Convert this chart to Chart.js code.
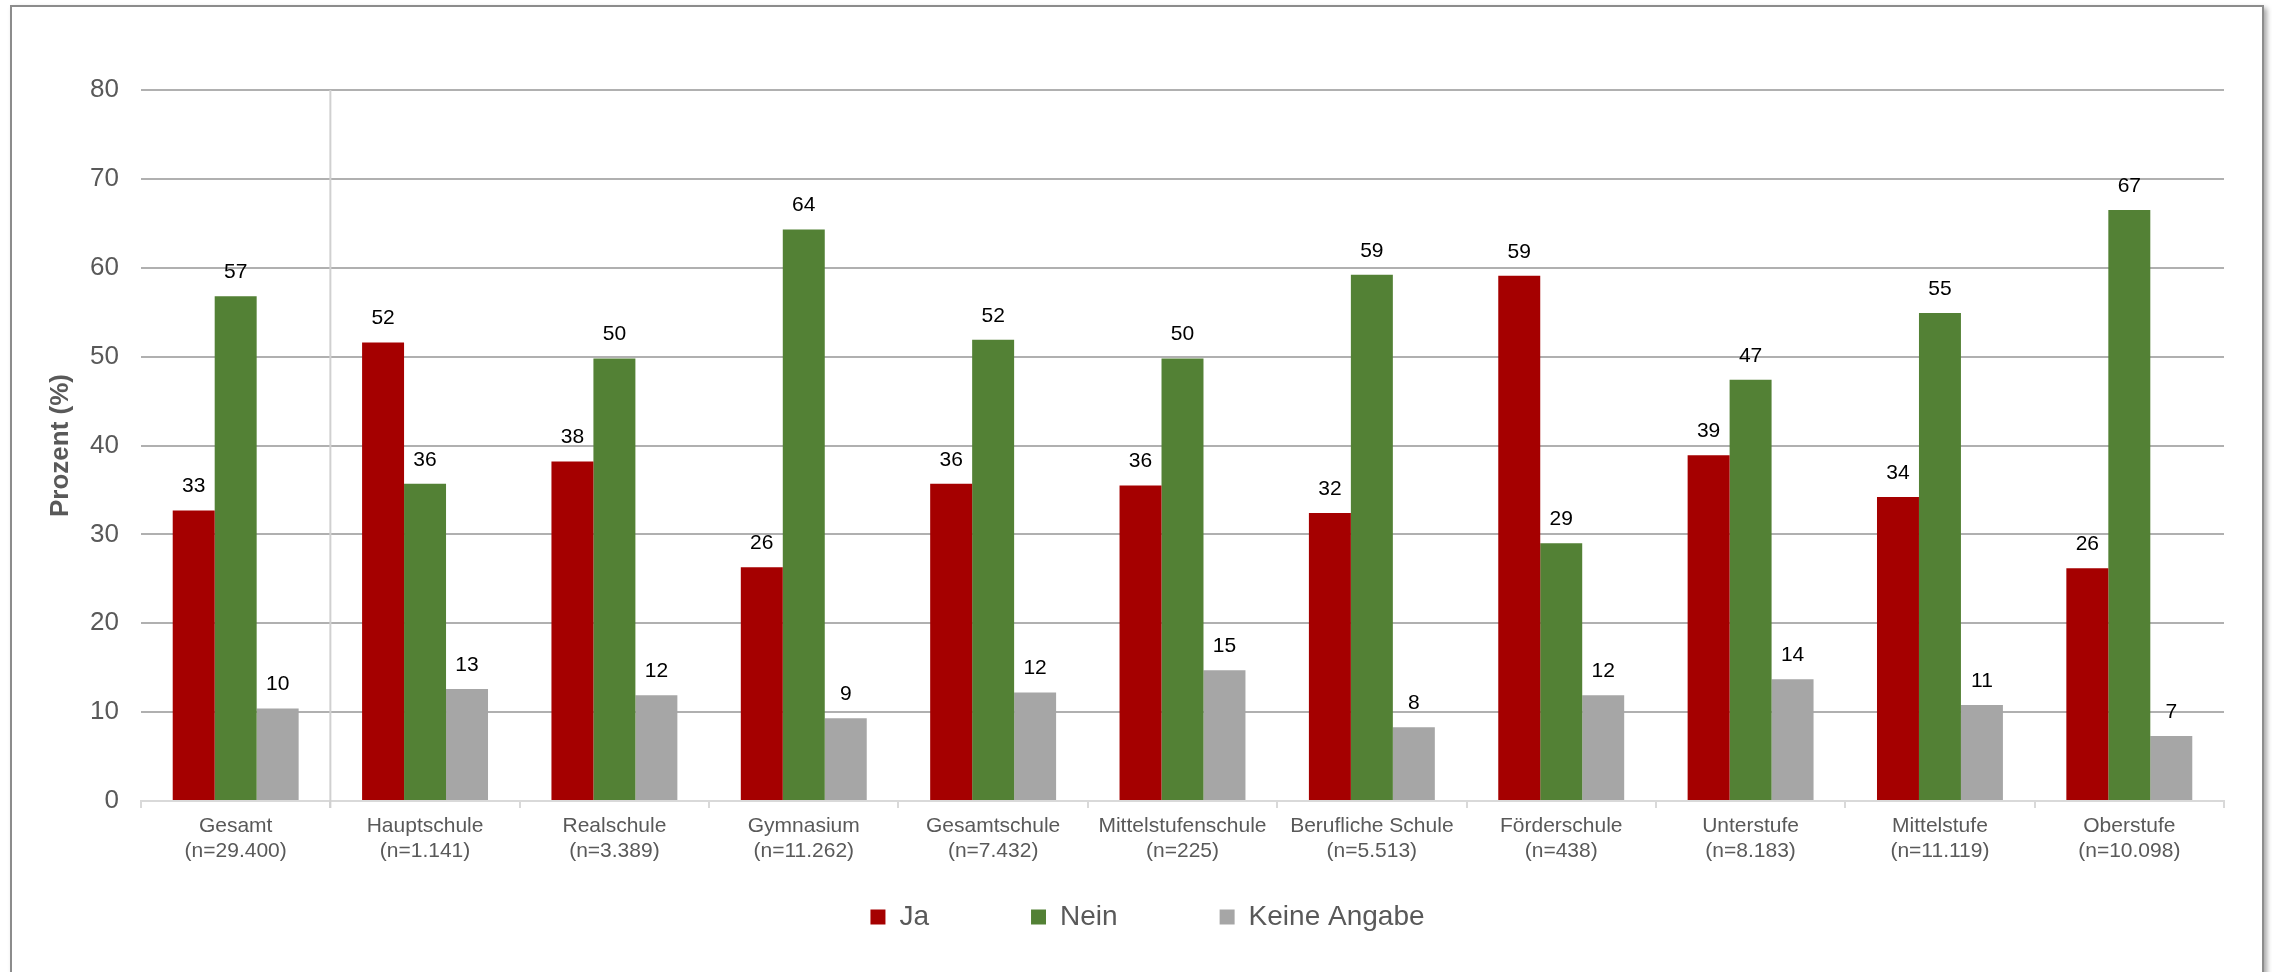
<!DOCTYPE html>
<html>
<head>
<meta charset="utf-8">
<script src="https://cdn.jsdelivr.net/npm/chart.js@4.4.1/dist/chart.umd.min.js"></script>
<style>
  body { margin: 0; background: #fff; }
  #wrap { position: relative; width: 2272px; height: 972px; overflow: hidden; }
  #myChart { position: absolute; left: 0; top: 0; }
  #frame { position: absolute; left: 10px; top: 5px; width: 2250px; height: 1000px;
           border: 2px solid #8c8c8c; box-shadow: 3px 3px 5px rgba(0,0,0,0.35); pointer-events: none; }
</style>
</head>
<body>
<div id="wrap">
  <canvas id="myChart" width="2272" height="972"></canvas>
  <div id="frame"></div>
</div>
<script>
const schools = ['Gesamt', 'Hauptschule', 'Realschule', 'Gymnasium', 'Gesamtschule', 'Mittelstufenschule',
                 'Berufliche Schule', 'Förderschule', 'Unterstufe', 'Mittelstufe', 'Oberstufe'];
const sampleSizes = ['(n=29.400)', '(n=1.141)', '(n=3.389)', '(n=11.262)', '(n=7.432)', '(n=225)',
                     '(n=5.513)', '(n=438)', '(n=8.183)', '(n=11.119)', '(n=10.098)'];
const ja = [32.7, 51.6, 38.2, 26.3, 35.7, 35.5, 32.4, 59.1, 38.9, 34.2, 26.2];
const nein = [56.8, 35.7, 49.8, 64.3, 51.9, 49.8, 59.2, 29.0, 47.4, 54.9, 66.5];
const keineAngabe = [10.4, 12.6, 11.9, 9.3, 12.2, 14.7, 8.3, 11.9, 13.7, 10.8, 7.3];
const yMin = 0, yMax = 80, yStep = 10;

const colors = ['#a50000', '#538135', '#a6a6a6'];
const textGray = '#595959';
const fontFamily = "'Liberation Sans', Arial, sans-serif";

// value labels above each bar
const barLabels = {
    id: 'barLabels',
    afterDatasetsDraw(chart) {
        const ctx = chart.ctx;
        ctx.save();
        ctx.font = '21px ' + fontFamily;
        ctx.fillStyle = '#000';
        ctx.textAlign = 'center';
        ctx.textBaseline = 'middle';
        chart.data.datasets.forEach((ds, i) => {
            chart.getDatasetMeta(i).data.forEach((bar, j) => {
                ctx.fillText(Math.round(ds.data[j]), bar.x, bar.y - 24);
            });
        });
        ctx.restore();
    }
};

// vertical line separating "Gesamt" from the school types
const separator = {
    id: 'separator',
    beforeDatasetsDraw(chart) {
        const x = chart.scales.x;
        const px = (x.getPixelForValue(0) + x.getPixelForValue(1)) / 2;
        const ctx = chart.ctx;
        ctx.save();
        ctx.strokeStyle = '#d0d0d0';
        ctx.lineWidth = 2;
        ctx.beginPath();
        ctx.moveTo(px, chart.chartArea.top);
        ctx.lineTo(px, chart.chartArea.bottom + 7);
        ctx.stroke();
        ctx.restore();
    }
};

const ctx = document.getElementById('myChart').getContext('2d');

const myChart = new Chart(ctx, {
    type: 'bar',
    data: {
        labels: schools.map((s, i) => [s, sampleSizes[i]]),
        datasets: [
            {label: 'Ja', data: ja, backgroundColor: colors[0]},
            {label: 'Nein', data: nein, backgroundColor: colors[1]},
            {label: 'Keine Angabe', data: keineAngabe, backgroundColor: colors[2]}
        ]
    },
    options: {
        responsive: false,
        animation: false,
        maintainAspectRatio: false,
        datasets: {
            bar: {categoryPercentage: 0.665, barPercentage: 1, borderWidth: 0}
        },
        layout: {
            padding: {left: 71, right: 48, top: 90, bottom: 31}
        },
        scales: {
            x: {
                // the wide legend padding also pushes the legend text down, so the x axis
                // takes no height and its (mirrored, unclipped) labels hang into the legend box
                afterFit(scale) { scale.height = 0; },
                grid: {
                    display: true,
                    drawOnChartArea: false,
                    drawTicks: true,
                    tickLength: 7,
                    color: '#d9d9d9',
                    lineWidth: 2
                },
                border: {display: true, color: '#d9d9d9', width: 2},
                ticks: {
                    mirror: true,
                    padding: -38,
                    color: textGray,
                    maxRotation: 0,
                    autoSkip: false,
                    font: {family: fontFamily, size: 21, lineHeight: 1.2}
                }
            },
            y: {
                min: yMin,
                max: yMax,
                afterFit(scale) { scale.width = 70; },
                ticks: {
                    stepSize: yStep,
                    color: textGray,
                    padding: 22,
                    font: {family: fontFamily, size: 26}
                },
                grid: {
                    drawTicks: false,
                    lineWidth: 2,
                    color: c => c.tick && c.tick.value === 0 ? 'rgba(0,0,0,0)' : '#b0b0b0'
                },
                border: {display: false},
                title: {
                    display: true,
                    text: 'Prozent (%)',
                    color: textGray,
                    padding: {top: -26, bottom: 0},
                    font: {family: fontFamily, size: 26, weight: 'bold'}
                }
            }
        },
        plugins: {
            legend: {
                position: 'bottom',
                labels: {
                    boxWidth: 15,
                    boxHeight: 15,
                    padding: 102,
                    color: textGray,
                    font: {family: fontFamily, size: 28}
                }
            },
            tooltip: {enabled: false}
        }
    },
    plugins: [barLabels, separator]
});
</script>
</body>
</html>
